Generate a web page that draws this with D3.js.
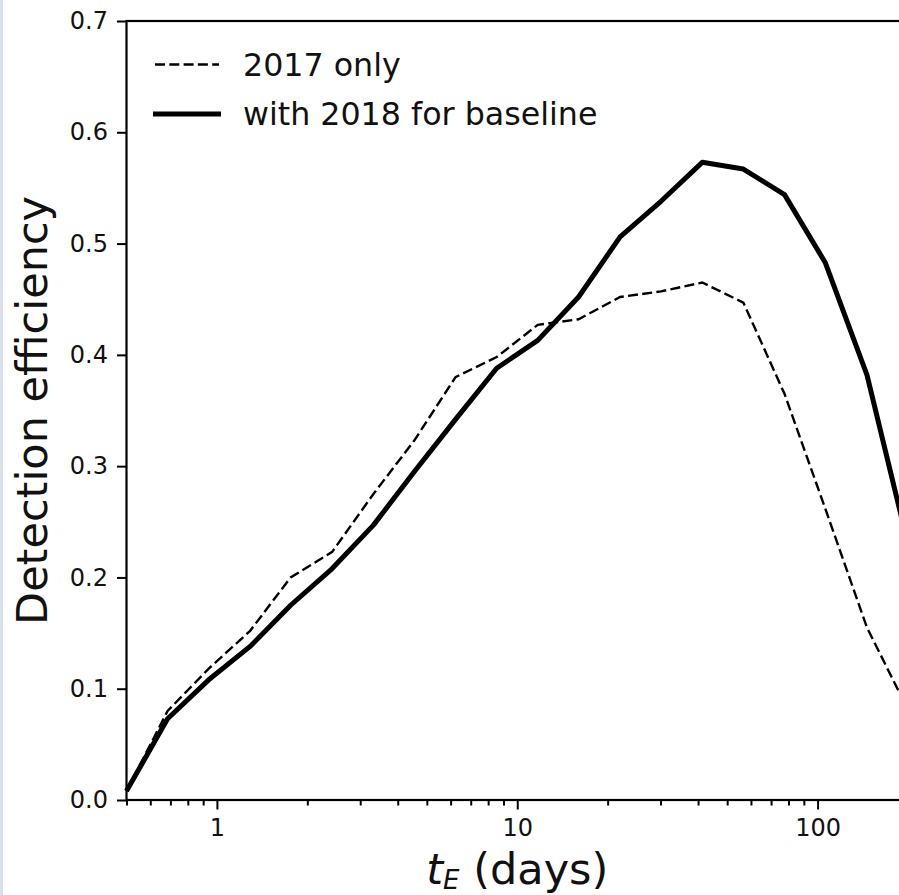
<!DOCTYPE html>
<html>
<head>
<meta charset="utf-8">
<script src="https://cdn.jsdelivr.net/npm/d3@7"></script>
<style>
  html, body { margin: 0; padding: 0; background: #fff; }
  svg { display: block; }
  text { font-family: "DejaVu Sans", sans-serif; fill: #111; }
</style>
</head>
<body>
<svg id="chart" width="899" height="895"></svg>
<script>
// ---- data ----
const tE = [0.5, 0.685, 0.939, 1.29, 1.76, 2.42, 3.32, 4.54, 6.23, 8.54,
            11.7, 16.0, 22.0, 30.1, 41.3, 56.6, 77.6, 106, 146, 200];
const eff2017 = [0.008, 0.080, 0.118, 0.152, 0.200, 0.223, 0.275, 0.323, 0.380, 0.398,
                 0.427, 0.432, 0.452, 0.457, 0.465, 0.447, 0.365, 0.262, 0.155, 0.081];
const eff2018 = [0.008, 0.073, 0.108, 0.138, 0.175, 0.208, 0.247, 0.295, 0.342, 0.388,
                 0.413, 0.452, 0.506, 0.538, 0.573, 0.567, 0.544, 0.483, 0.382, 0.230];
const yTicks = [0, 0.1, 0.2, 0.3, 0.4, 0.5, 0.6, 0.7];
const xMajorTicks = [1, 10, 100];
const xMinorTicks = [0.5, 0.6, 0.7, 0.8, 0.9, 2, 3, 4, 5, 6, 7, 8, 9,
                     20, 30, 40, 50, 60, 70, 80, 90, 200];
const seriesNames = ["2017 only", "with 2018 for baseline"];

// ---- layout ----
const L = 126.5, R = 908, T = 21, B = 800;
const svg = d3.select("#chart");

// light strip at left edge
svg.append("rect").attr("x", 0).attr("y", 0).attr("width", 3).attr("height", 895)
   .attr("fill", "#d8e1ea");

const x = d3.scaleLog().domain([0.5, 200]).range([L, R]);
const y = d3.scaleLinear().domain([0, 0.7]).range([B, T]);

// lines
const line = d3.line().x((d, i) => x(tE[i])).y(d => y(d));

svg.append("path").datum(eff2017)
   .attr("d", line).attr("fill", "none").attr("stroke", "#000")
   .attr("stroke-width", 2.4).attr("stroke-dasharray", "10,4.3");

svg.append("path").datum(eff2018)
   .attr("d", line).attr("fill", "none").attr("stroke", "#000")
   .attr("stroke-width", 5).attr("stroke-linejoin", "round");

// axes
const yAxis = d3.axisLeft(y).tickValues(yTicks).tickFormat(d3.format(".1f"))
   .tickSize(9.5).tickPadding(9);
const gy = svg.append("g").attr("transform", `translate(${L},0)`).call(yAxis);

const xAxis = d3.axisBottom(x).tickValues(xMajorTicks).tickFormat(d3.format("d"))
   .tickSize(9.5).tickPadding(9);
const gx = svg.append("g").attr("transform", `translate(0,${B})`).call(xAxis);

const xMinor = d3.axisBottom(x).tickValues(xMinorTicks).tickFormat("").tickSize(5.5);
const gxm = svg.append("g").attr("transform", `translate(0,${B})`).call(xMinor);

[gy, gx, gxm].forEach(g => {
  g.select(".domain").remove();
  g.selectAll(".tick line").attr("stroke", "#000").attr("stroke-width", 2);
  g.selectAll(".tick text").style("font-family", "DejaVu Sans")
   .style("font-size", "24px").attr("fill", "#111");
});

// spines
svg.append("rect").attr("x", L).attr("y", T).attr("width", R - L).attr("height", B - T)
   .attr("fill", "none").attr("stroke", "#000").attr("stroke-width", 2.2);

// axis labels
svg.append("text")
   .attr("transform", `translate(47,${(T + B) / 2}) rotate(-90)`)
   .attr("text-anchor", "middle")
   .style("font-size", "43px")
   .text("Detection efficiency");

const xl = svg.append("text")
   .attr("x", (L + R) / 2).attr("y", 884)
   .attr("text-anchor", "middle")
   .style("font-size", "43px");
xl.append("tspan").style("font-style", "italic").text("t");
xl.append("tspan").style("font-style", "italic").style("font-size", "26px")
  .attr("dy", 5).text("E");
xl.append("tspan").attr("dy", -5).text(" (days)");

// legend
const legend = svg.append("g");
legend.append("line").attr("x1", 155).attr("x2", 219).attr("y1", 64.5).attr("y2", 64.5)
   .attr("stroke", "#000").attr("stroke-width", 2.4).attr("stroke-dasharray", "10,4.3");
legend.append("line").attr("x1", 153).attr("x2", 221).attr("y1", 114).attr("y2", 114)
   .attr("stroke", "#000").attr("stroke-width", 5);
legend.append("text").attr("x", 243).attr("y", 75.5).style("font-size", "31.7px").text(seriesNames[0]);
legend.append("text").attr("x", 243).attr("y", 124.5).style("font-size", "31.7px").text(seriesNames[1]);
</script>
</body>
</html>
